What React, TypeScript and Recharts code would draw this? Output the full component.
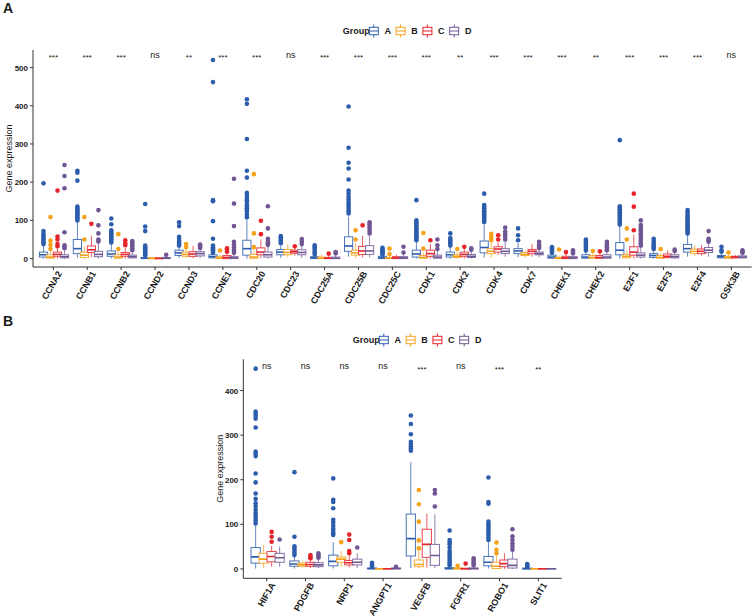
import React from 'react';
import { ComposedChart, Bar, XAxis, YAxis, Scatter, Legend } from 'recharts';

const FONT = '"Liberation Sans", Arial, Helvetica, sans-serif';
const INK = '#1a1a1a';
const AXIS = '#333333';
const GROUPS = ['A', 'B', 'C', 'D'];
const COLORS = ['#2C5DAC', '#F5A21B', '#E5232B', '#6F5593'];

// ---------- Panel A ----------
const genesA = ['CCNA2', 'CCNB1', 'CCNB2', 'CCND2', 'CCND3', 'CCNE1', 'CDC20', 'CDC23', 'CDC25A', 'CDC25B', 'CDC25C',
  'CDK1', 'CDK2', 'CDK4', 'CDK7', 'CHEK1', 'CHEK2', 'E2F1', 'E2F3', 'E2F4', 'GSK3B'];
const sigA = ['***', '***', '***', 'ns', '**', '***', '***', 'ns', '***', '***', '***', '***', '**', '***', '***', '***', '**', '***', '***', '***', 'ns'];
const yTicksA = [0, 100, 200, 300, 400, 500];

// [lower whisker, Q1, median, Q3, upper whisker]
const boxA_A = [[0, 4, 10, 17, 35], [2, 13, 26, 50, 95], [0, 6, 12, 20, 38], [0, 0, 1, 3, 7], [2, 8, 15, 22, 30], [0, 2, 5, 10, 12],
  [0, 9, 26, 48, 102], [2, 10, 17, 24, 35], [0, 0, 2, 5, 8], [5, 19, 33, 57, 110], [0, 0, 2, 6, 8], [0, 4, 12, 22, 45],
  [0, 4, 10, 17, 30], [3, 15, 29, 46, 92], [4, 13, 20, 26, 40], [0, 1, 4, 9, 12], [0, 1, 4, 10, 18], [0, 10, 22, 42, 85],
  [0, 3, 8, 13, 20], [5, 17, 26, 37, 62], [0, 2, 5, 8, 14]];
const outA_A = [[38, 42, 46, 50, 55, 60, 65, 72, 197], [100, 104, 108, 112, 116, 120, 124, 128, 132, 136, 204, 225, 230],
  [42, 46, 50, 54, 58, 62, 66, 70, 74, 90, 105], [9, 12, 15, 18, 21, 24, 27, 30, 34, 72, 84, 143], [34, 38, 42, 47, 52, 57, 85, 95],
  [15, 18, 21, 24, 27, 30, 34, 52, 98, 150, 153, 462, 520],
  [108, 115, 123, 128, 132, 137, 141, 148, 153, 157, 164, 172, 212, 230, 313, 405, 417], [40, 44, 48, 52, 56, 59],
  [11, 15, 20, 25, 30, 35], [118, 124, 130, 136, 142, 148, 155, 162, 170, 178, 207, 236, 251, 290, 398], [10, 13, 16, 19, 22, 25, 28],
  [48, 52, 56, 60, 64, 68, 72, 76, 80, 84, 88, 92, 96, 100, 153], [34, 38, 42, 46, 50, 54, 66],
  [96, 100, 104, 108, 112, 116, 120, 124, 128, 132, 136, 140, 170], [48, 61, 79], [15, 18, 21, 24, 27, 30],
  [21, 25, 29, 33, 37, 41, 45, 50], [89, 93, 97, 101, 105, 109, 113, 117, 121, 125, 129, 133, 137, 310], [25, 30, 35, 40, 46, 52],
  [66, 70, 74, 78, 82, 86, 90, 94, 98, 102, 106, 110, 115, 121, 127], [18, 22, 31]];

const boxA_B = [[0, 1, 4, 10, 20], [0, 3, 9, 17, 32], [0, 1, 4, 10, 18], [0, 0, 0.5, 2, 4], [2, 6, 11, 17, 26], [0, 0, 1.5, 5, 10],
  [0, 1, 4, 11, 22], [3, 10, 16, 24, 38], [0, 0, 1, 4, 10], [2, 9, 15, 22, 40], [0, 0, 1, 3, 8], [0, 1, 3, 8, 16],
  [0, 3, 6, 10, 18], [2, 13, 19, 26, 42], [3, 8, 11, 16, 22], [0, 0, 1, 3, 8], [0, 1, 3, 8, 15], [0, 2, 6, 11, 22],
  [0, 1, 3, 8, 15], [6, 13, 19, 25, 35], [0, 1, 3, 6, 10]];
const outA_B = [[25, 36, 47, 109], [50, 109], [25, 64], [], [30, 38], [21], [30, 66, 221], [], [], [50, 74], [12, 26], [26, 67],
  [25], [48, 52, 58, 65], [], [24], [20], [50, 79], [25], [], [16]];

const boxA_C = [[0, 6, 11, 17, 26], [4, 16, 23, 33, 60], [0, 6, 11, 16, 28], [0, 0, 0.5, 1.5, 3], [1, 6, 12, 18, 33], [0, 0, 3, 8, 15],
  [1, 10, 17, 28, 50], [8, 14, 18, 22, 29], [0, 0, 1, 3, 7], [3, 11, 20, 32, 60], [0, 0, 2, 5, 10], [0, 6, 13, 22, 38],
  [0, 6, 11, 17, 27], [10, 17, 25, 31, 42], [5, 13, 19, 24, 38], [0, 0, 2, 6, 12], [0, 1, 3, 8, 14], [0, 9, 17, 31, 62],
  [0, 3, 6, 12, 22], [8, 13, 19, 25, 35], [0, 2, 4, 6, 9]];
const outA_C = [[32, 38, 50, 58, 178], [91], [35, 40, 48], [], [], [18, 23, 27], [64, 99], [32], [13], [87], [], [48], [31],
  [50, 61], [], [17], [19], [74, 136, 170], [], [], []];

const boxA_D = [[0, 2, 5, 10, 22], [0, 5, 11, 19, 40], [0, 2, 5, 9, 18], [0, 0, 1, 3, 7], [2, 7, 13, 18, 25], [0, 0, 2, 5, 11],
  [0, 4, 10, 17, 32], [2, 10, 16, 23, 33], [0, 0, 1, 4, 10], [3, 11, 20, 34, 60], [0, 0, 2, 5, 12], [0, 1, 4, 9, 20],
  [0, 3, 6, 11, 20], [5, 13, 19, 26, 44], [3, 10, 13, 17, 24], [0, 0, 2, 5, 10], [0, 1, 4, 10, 18], [0, 4, 9, 15, 30],
  [0, 2, 5, 10, 16], [5, 16, 22, 29, 40], [0, 2, 4, 7, 12]];
const outA_D = [[27, 31, 35, 69, 184, 216, 245], [45, 50, 66, 87, 127], [22, 27, 32, 37, 42, 46], [10], [28, 31, 34, 37],
  [15, 20, 24, 30, 36, 44, 85, 144, 209], [36, 40, 45, 52, 79, 137], [38, 45, 51], [14, 17], [66, 72, 78, 84, 90, 95], [16, 31],
  [25, 35, 50], [23, 27], [50, 57, 63, 70, 81], [28, 32, 37, 44], [14, 18, 22], [22, 26, 30, 34, 38, 44],
  [34, 40, 46, 52, 58, 64, 70, 76, 82, 88, 100], [20, 24], [44, 48, 52, 72], [15, 18, 22]];

// ---------- Panel B ----------
const genesB = ['HIF1A', 'PDGFB', 'NRP1', 'ANGPT1', 'VEGFB', 'FGFR1', 'ROBO1', 'SLIT1'];
const sigB = ['ns', 'ns', 'ns', 'ns', '***', 'ns', '***', '**'];
const yTicksB = [0, 100, 200, 300, 400];

const boxB_A = [[1, 13, 27, 48, 97], [1, 6, 11, 18, 28], [1, 7, 17, 31, 60], [0, 0, 1, 2, 3], [2, 29, 68, 123, 240], [0, 0, 1, 3, 6],
  [1, 7, 15, 28, 60], [0, 0, 0.5, 2, 3]];
const outB_A = [[102, 108, 114, 119, 125, 132, 140, 147, 157, 169, 194, 214, 253, 258, 263, 317, 337, 343, 348, 353, 449],
  [31, 36, 41, 46, 51, 72, 217], [76, 80, 85, 90, 97, 104, 110, 136, 150, 155, 203], [5, 8, 11, 14],
  [265, 270, 275, 280, 285, 302, 325, 344], [8, 12, 16, 20, 25, 30, 35, 40, 48, 55, 60, 65, 86],
  [65, 70, 75, 80, 85, 90, 95, 100, 106, 146, 150, 205], [5, 7, 9, 11]];
const boxB_B = [[2, 13, 22, 35, 54], [3, 6, 9, 13, 18], [5, 15, 22, 27, 40], [0, 0, 0.5, 1, 2], [1, 5, 10, 20, 40], [0, 0, 1, 2, 4],
  [0, 1, 6, 15, 30], [0, 0, 0.5, 1, 2]];
const outB_B = [[], [], [60], [], [46, 64, 106, 145, 177], [7], [35, 43, 59], []];
const boxB_C = [[5, 16, 28, 39, 52], [2, 6, 10, 15, 22], [3, 9, 14, 19, 30], [0, 0, 0.5, 1, 2], [3, 26, 55, 89, 124],
  [0, 0, 0.5, 1.5, 3], [0, 5, 12, 20, 35], [0, 0, 0.5, 1, 2]];
const outB_C = [[61, 72, 83], [24, 27, 31], [35, 40, 65, 77], [], [], [12], [], []];
const boxB_D = [[5, 15, 25, 35, 50], [2, 5, 9, 14, 22], [2, 9, 15, 22, 35], [0, 0, 1, 2, 3], [2, 8, 30, 55, 122], [0, 0, 1, 2, 5],
  [0, 2, 8, 22, 40], [0, 0, 0.5, 1, 2]];
const outB_D = [[66], [25, 28, 31, 35], [48], [5], [140, 169, 177], [8, 12, 16, 20, 24], [43, 50, 57, 65, 73, 89], []];

// Level (data units) at which the significance labels sit
const SIG_LEVEL_A = 533;
const SIG_LEVEL_B = 454;

// Reference interval in data units: each bar spans it, giving the shape the y scale
const SPAN: [number, number] = [0, 100];

function buildRows(genes: string[], sig: string[], boxes: number[][][], outs: number[][][], sigLevel: number) {
  return genes.map((gene, i) => {
    const row: any = { gene, sig: sig[i], sigLevel };
    GROUPS.forEach((g, gi) => {
      row['span' + g] = SPAN;
      row['stats' + g] = boxes[gi][i];
      row['out' + g] = outs[gi][i];
    });
    return row;
  });
}

const rowsA = buildRows(genesA, sigA, [boxA_A, boxA_B, boxA_C, boxA_D], [outA_A, outA_B, outA_C, outA_D], SIG_LEVEL_A);
const rowsB = buildRows(genesB, sigB, [boxB_A, boxB_B, boxB_C, boxB_D], [outB_A, outB_B, outB_C, outB_D], SIG_LEVEL_B);

const makeBoxShape = (gi: number) => (props: any) => {
  const { x, y, width, height, payload } = props;
  if (!payload || !isFinite(y) || !isFinite(height) || height === 0) return <g />;
  const g = GROUPS[gi];
  const topPx = Math.min(y, y + height);
  const botPx = Math.max(y, y + height);
  const k = (botPx - topPx) / (SPAN[1] - SPAN[0]);
  const py = (v: number) => botPx - (v - SPAN[0]) * k;
  const stats = payload['stats' + g];
  const out = payload['out' + g];
  const [lo, q1, med, q3, hi] = stats;
  const color = COLORS[gi];
  const cx = x + width / 2;
  const bw = width + 1.2;
  const top = py(q3);
  const bot = py(q1);
  return (
    <g>
      <line x1={cx} x2={cx} y1={py(hi)} y2={top} stroke={color} strokeWidth={1} strokeOpacity={0.75} />
      <line x1={cx} x2={cx} y1={bot} y2={py(lo)} stroke={color} strokeWidth={1} strokeOpacity={0.75} />
      <rect x={cx - bw / 2} y={top} width={bw} height={Math.max(bot - top, 0.3)} fill="#ffffff" stroke={color} strokeWidth={1} strokeOpacity={0.85} />
      <line x1={cx - bw / 2} x2={cx + bw / 2} y1={py(med)} y2={py(med)} stroke={color} strokeWidth={1.6} />
      {out.map((v: number, j: number) => (
        <circle key={j} cx={cx} cy={py(v)} r={2.3} fill={color} />
      ))}
    </g>
  );
};

const SigLabel = (p: any) => {
  if (p.cx == null || p.cy == null) return <g />;
  const s = p.payload.sig;
  const star = s !== 'ns';
  return (
    <text x={p.cx} y={p.cy + (star ? 5.5 : 3)} textAnchor="middle" fontFamily={FONT} fontSize={star ? 8 : 9} fill={INK}>
      {s}
    </text>
  );
};

const GeneTick = (p: any) => {
  const ax = p.x + 9;
  const ay = p.y + 1.5;
  return (
    <text x={ax} y={ay} transform={`rotate(-60, ${ax}, ${ay})`} textAnchor="end" fontFamily={FONT} fontSize={9} fontWeight="bold" fill={INK}>
      {p.payload.value}
    </text>
  );
};

const YTick = (p: any) => (
  <text x={p.x} y={p.y} dy={3} textAnchor="end" fontFamily={FONT} fontSize={8} fontWeight="bold" fill={INK}>
    {p.payload.value}
  </text>
);

const YLabel = (p: any) => {
  const vb = p.viewBox || {};
  const x = (vb.x || 0) + 9.3;
  const y = (vb.y || 0) + (vb.height || 0) / 2;
  return (
    <text x={x} y={y} transform={`rotate(-90, ${x}, ${y})`} textAnchor="middle" dominantBaseline="central" fontFamily={FONT} fontSize={9} fill={INK}>
      Gene expression
    </text>
  );
};

const LegendBox = () => (
  <svg width={140} height={18} style={{ display: 'block', overflow: 'visible' }}>
    <text x={2.7} y={12} fontFamily={FONT} fontSize={9} fontWeight="bold" fill={INK}>Group</text>
    {GROUPS.map((g, i) => {
      const ix = 29.3 + 26.8 * i;
      const c = COLORS[i];
      return (
        <g key={g}>
          <line x1={ix + 4.5} x2={ix + 4.5} y1={2.5} y2={5.3} stroke={c} strokeWidth={1} />
          <line x1={ix + 4.5} x2={ix + 4.5} y1={12.7} y2={15.5} stroke={c} strokeWidth={1} />
          <rect x={ix} y={5.3} width={9} height={7.4} fill="#fff" stroke={c} strokeWidth={1} />
          <line x1={ix} x2={ix + 9} y1={9} y2={9} stroke={c} strokeWidth={1} />
          <text x={ix + 15.2} y={12.2} fontFamily={FONT} fontSize={9} fontWeight="bold" fill={INK}>{g}</text>
        </g>
      );
    })}
  </svg>
);

function Panel(props: {
  rows: any[]; width: number; height: number; margin: any; domain: [number, number]; ticks: number[];
  xHeight: number; padX: number; gap: string; legendPos: { left: number; top: number };
}) {
  const { rows, width, height, margin, domain, ticks, xHeight, padX, gap, legendPos } = props;
  return (
    <ComposedChart width={width} height={height} data={rows} margin={margin} barCategoryGap={gap} barGap={0}>
      <XAxis
        dataKey="gene"
        type="category"
        interval={0}
        padding={{ left: padX, right: padX }}
        height={xHeight}
        tickSize={3}
        tickMargin={2}
        axisLine={{ stroke: AXIS, strokeWidth: 1 }}
        tickLine={{ stroke: AXIS, strokeWidth: 1 }}
        tick={GeneTick}
      />
      <YAxis
        type="number"
        width={33}
        domain={domain}
        ticks={ticks}
        allowDataOverflow
        tickSize={3}
        tickMargin={2}
        axisLine={{ stroke: AXIS, strokeWidth: 1 }}
        tickLine={{ stroke: AXIS, strokeWidth: 1 }}
        tick={YTick}
        label={YLabel}
      />
      <Legend
        layout="horizontal"
        verticalAlign="middle"
        align="center"
        wrapperStyle={{ left: legendPos.left, top: legendPos.top, width: 140, height: 18 }}
        content={() => <LegendBox />}
      />
      {GROUPS.map((g, gi) => (
        <Bar key={g} name={g} dataKey={'span' + g} fill={COLORS[gi]} isAnimationActive={false} shape={makeBoxShape(gi)} />
      ))}
      <Scatter dataKey="sigLevel" isAnimationActive={false} shape={SigLabel} legendType="none" />
    </ComposedChart>
  );
}

export default function App() {
  return (
    <div style={{ position: 'absolute', left: 0, top: 0, width: 753, height: 616, background: '#ffffff', fontFamily: FONT, overflow: 'hidden' }}>
      <div style={{ position: 'absolute', left: 3, top: 0, fontSize: 14, fontWeight: 'bold', color: INK, lineHeight: '16px' }}>A</div>
      <div style={{ position: 'absolute', left: 3, top: 313, fontSize: 14, fontWeight: 'bold', color: INK, lineHeight: '16px' }}>B</div>
      <div style={{ position: 'absolute', left: 0, top: 0 }}>
        <Panel
          rows={rowsA}
          width={753}
          height={312}
          margin={{ top: 50, right: 1.3, left: 0, bottom: 0 }}
          domain={[-22, 546]}
          ticks={yTicksA}
          xHeight={45}
          padX={3.4}
          gap="10.6%"
          legendPos={{ left: 340, top: 22 }}
        />
      </div>
      <div style={{ position: 'absolute', left: 0, top: 305 }}>
        <Panel
          rows={rowsB}
          width={753}
          height={311}
          margin={{ top: 54.3, right: 191.3, left: 210.3, bottom: 0 }}
          domain={[-21, 470]}
          ticks={yTicksB}
          xHeight={37.7}
          padX={4}
          gap="11.2%"
          legendPos={{ left: 350, top: 26.3 }}
        />
      </div>
    </div>
  );
}
